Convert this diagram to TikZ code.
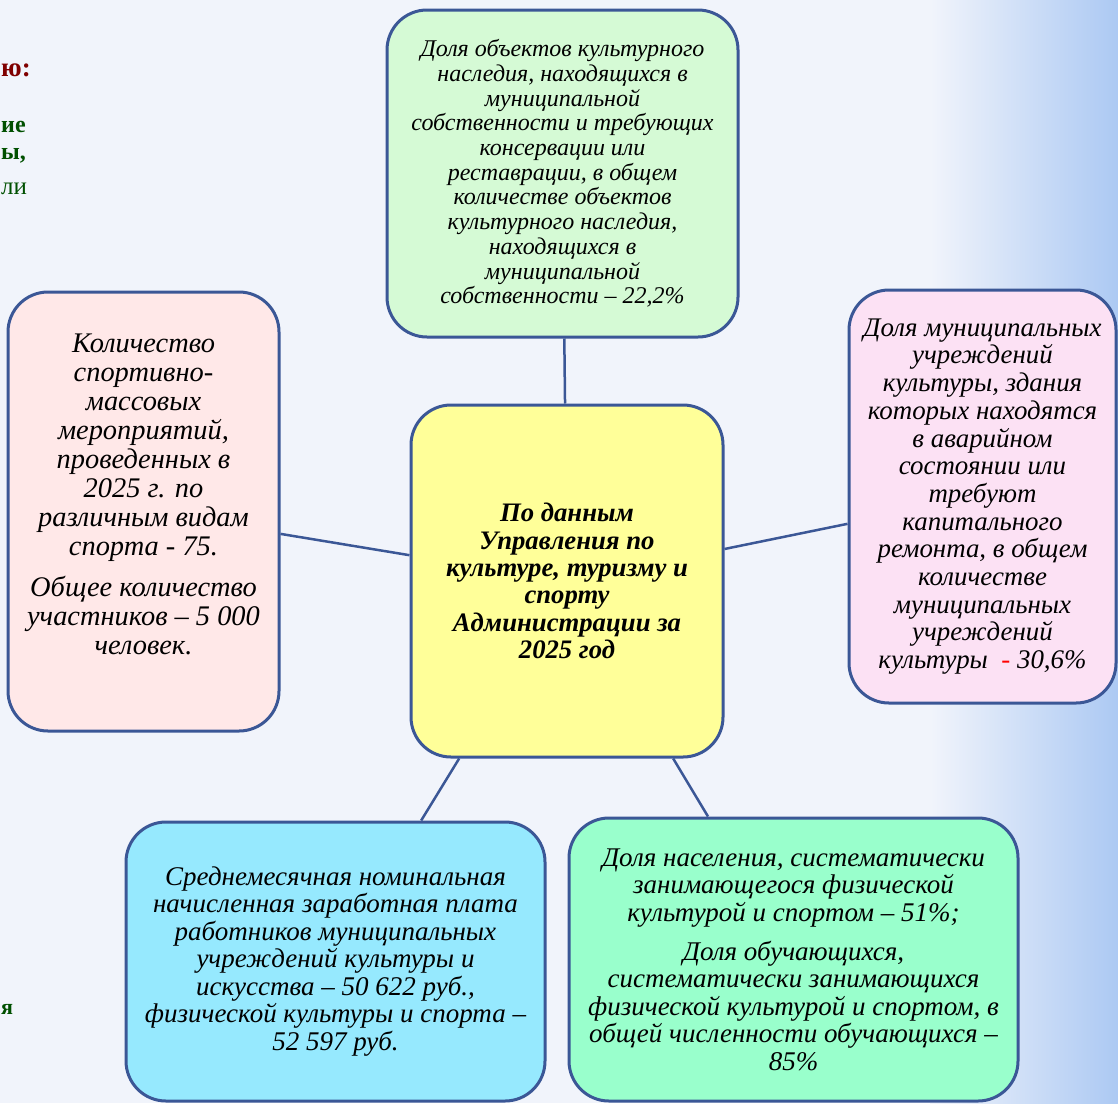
\documentclass[tikz,border=0pt]{standalone}
\usepackage{fontspec}
\setmainfont{Liberation Serif}
\usepackage{tikz}
\usetikzlibrary{shapes.geometric, positioning}
\definecolor{edge}{RGB}{59,87,150}
\definecolor{bgbase}{RGB}{241,244,251}
\definecolor{bgblue}{RGB}{172,201,243}
\definecolor{heritfill}{RGB}{213,250,213}
\definecolor{repairfill}{RGB}{252,225,244}
\definecolor{sportfill}{RGB}{255,232,232}
\definecolor{hubfill}{RGB}{255,255,153}
\definecolor{salaryfill}{RGB}{150,233,254}
\definecolor{popfill}{RGB}{153,255,204}
\definecolor{slidered}{RGB}{128,0,0}
\definecolor{slidegreen}{RGB}{0,80,0}
\tikzstyle{bubble} = [rectangle, rounded corners=40pt, draw=edge, line width=3pt, text centered, align=center]
\tikzstyle{txt} = [align=center, inner sep=0pt]
\tikzstyle{frag} = [anchor=west, inner sep=0pt, text=slidegreen]
\tikzstyle{link} = [draw=edge, line width=2.5pt]

\begin{document}
\begin{tikzpicture}[x=1pt, y=-1pt]

\fill [bgbase] (0,0) rectangle (1118,1103);
\shade [left color=bgbase, right color=bgblue] (930,0) rectangle (1118,1103);
\useasboundingbox (0,0) rectangle (1118,1103);

\node (f1) [frag, text=slidered, font=\bfseries\fontsize{27pt}{30pt}\selectfont] at (1,70) {ю:};
\node (f2) [frag, font=\bfseries\fontsize{24pt}{26pt}\selectfont] at (1,127) {ие};
\node (f3) [frag, font=\bfseries\fontsize{24pt}{26pt}\selectfont] at (1,156) {ы,};
\node (f4) [frag, font=\fontsize{25pt}{28pt}\selectfont] at (1,189) {ли};
\node (f5) [frag, font=\bfseries\fontsize{22pt}{24pt}\selectfont] at (1,1009) {я};

\node (hub) [bubble, fill=hubfill, minimum width=312pt, minimum height=352pt, font=\bfseries\itshape\fontsize{26.7pt}{27.4pt}\selectfont] at (567,581) {По данным\\ Управления по\\ культуре, туризму и\\ спорту\\ Администрации за\\ 2025 год};
\node (herit) [bubble, fill=heritfill, minimum width=351pt, minimum height=327pt, font=\itshape\fontsize{24pt}{24.7pt}\selectfont] at (562.5,173.5) {Доля объектов культурного\\ наследия, находящихся в\\ муниципальной\\ собственности и требующих\\ консервации или\\ реставрации, в общем\\ количестве объектов\\ культурного наследия,\\ находящихся в\\ муниципальной\\ собственности – 22,2\%};
\node (repair) [bubble, fill=repairfill, minimum width=267pt, minimum height=413pt, font=\itshape\fontsize{26.9pt}{27.7pt}\selectfont] at (982.5,496.5) {Доля муниципальных\\ учреждений\\ культуры, здания\\ которых находятся\\ в аварийном\\ состоянии или\\ требуют\\ капитального\\ ремонта, в общем\\ количестве\\ муниципальных\\ учреждений\\ культуры\ \ \textcolor{red}{-} 30,6\%};
\node (sport) [bubble, fill=sportfill, minimum width=271pt, minimum height=439pt] at (143.5,511.5) {};
\node (sporttext) [txt, font=\itshape\fontsize{28.4pt}{29pt}\selectfont] at ([yshift=17.5pt]sport.center) {Количество\\ спортивно-\\ массовых\\ мероприятий,\\ проведенных в\\ 2025 г. по\\ различным видам\\ спорта - 75.\\[12pt] Общее количество\\ участников – 5 000\\ человек.};
\node (salary) [bubble, fill=salaryfill, minimum width=419pt, minimum height=279pt, font=\itshape\fontsize{27pt}{27.5pt}\selectfont] at (335.5,961.5) {Среднемесячная номинальная\\ начисленная заработная плата\\ работников муниципальных\\ учреждений культуры и\\ искусства – 50 622 руб.,\\ физической культуры и спорта –\\ 52 597 руб.};
\node (pop) [bubble, fill=popfill, minimum width=449pt, minimum height=283pt, font=\itshape\fontsize{27pt}{27.4pt}\selectfont] at (793.5,959.5) {Доля населения, систематически\\ занимающегося физической\\ культурой и спортом – 51\%;\\[12pt] Доля обучающихся,\\ систематически занимающихся\\ физической культурой и спортом, в\\ общей численности обучающихся –\\ 85\%};

\draw [link] (hub) -- (herit);
\draw [link] (hub) -- (repair);
\draw [link] (hub) -- (sport);
\draw [link] (hub) -- (salary);
\draw [link] (hub) -- (pop);

\end{tikzpicture}
\end{document}
